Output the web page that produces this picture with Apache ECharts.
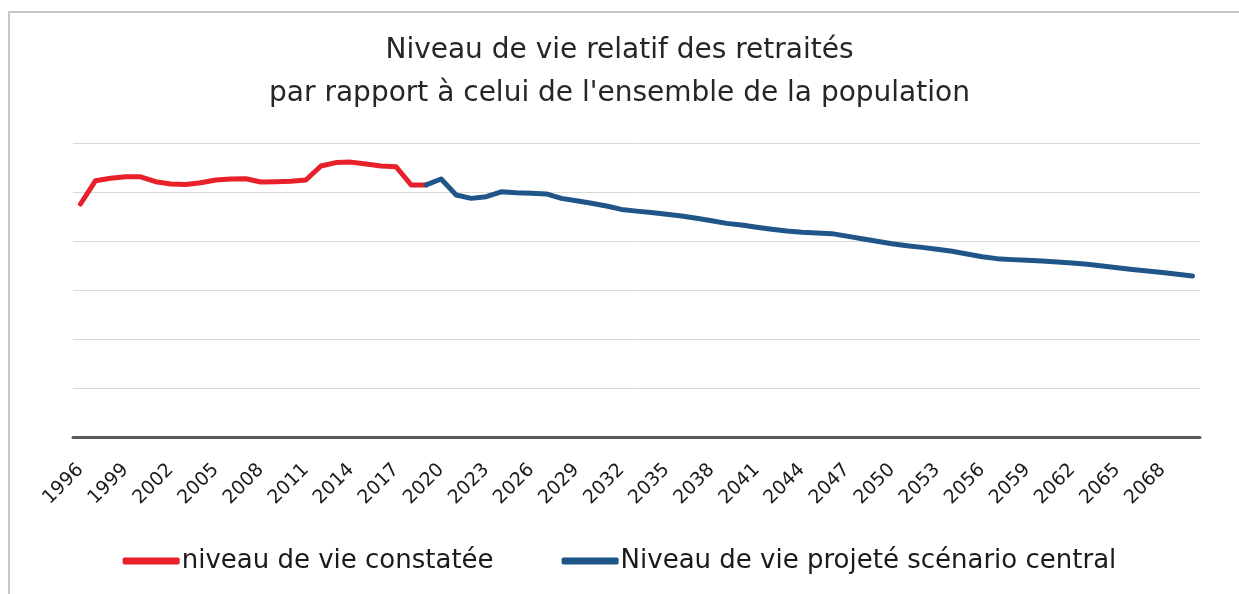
<!DOCTYPE html>
<html>
<head>
<meta charset="utf-8">
<script src="https://cdn.jsdelivr.net/npm/echarts@6/dist/echarts.min.js"></script>
<style>
html, body { margin: 0; padding: 0; background: #fff; }
#main { width: 1239px; height: 594px; }
</style>
</head>
<body>
<div id="main"></div>
<script>
// années 1996 -> 2070
var years = [];
for (var y = 1996; y <= 2070; y++) years.push(String(y));

// niveau de vie constaté (1996-2019)
var observed = [95.1, 104.6, 105.6, 106.2, 106.2, 104.2, 103.3, 103.1, 103.8, 104.9,
	105.3, 105.4, 104.1, 104.2, 104.4, 104.9, 110.6, 112.0, 112.2, 111.4,
	110.6, 110.3, 102.9, 102.9];

// projection scénario central (2019-2070)
var projected = [102.9, 105.3, 98.8, 97.4, 98.1, 100.1, 99.7, 99.5, 99.2, 97.4,
	96.4, 95.4, 94.3, 92.9, 92.2, 91.6, 90.9, 90.2, 89.3, 88.3,
	87.2, 86.5, 85.6, 84.8, 84.1, 83.6, 83.3, 83.0, 82.0, 80.9,
	79.9, 78.9, 78.1, 77.4, 76.6, 75.8, 74.7, 73.6, 72.8, 72.4,
	72.1, 71.8, 71.4, 71.0, 70.5, 69.8, 69.1, 68.4, 67.8, 67.1,
	66.4, 65.7];

var serieObs = observed.slice();
while (serieObs.length < years.length) serieObs.push(null);

var serieProj = [];
for (var i = 0; i < years.length - projected.length; i++) serieProj.push(null);
serieProj = serieProj.concat(projected);

var font = 'DejaVu Sans';
var chart = echarts.init(document.getElementById('main'));

var option = {
	backgroundColor: '#fff',
	animation: false,
	title: {
		text: 'Niveau de vie relatif des retraités\npar rapport à celui de l\'ensemble de la population',
		left: 'center',
		top: 24,
		textStyle: {
			fontFamily: font,
			fontSize: 28,
			fontWeight: 'normal',
			color: '#262626',
			lineHeight: 43
		}
	},
	graphic: [{
		type: 'rect',
		shape: { x: 9, y: 12, width: 1400, height: 800 },
		style: { fill: 'none', stroke: '#c8c8c8', lineWidth: 2 },
		silent: true
	}],
	legend: {
		bottom: 15,
		left: 'center',
		itemWidth: 57,
		itemHeight: 7,
		itemGap: 68,
		icon: 'roundRect',
		textStyle: { fontFamily: font, fontSize: 26, color: '#1a1a1a', padding: [0, 0, 0, -3] },
		data: ['niveau de vie constatée', 'Niveau de vie projeté scénario central']
	},
	grid: {
		left: 73,
		right: 39,
		top: 143,
		bottom: 157,
		containLabel: false,
		outerBoundsMode: 'none'
	},
	xAxis: {
		type: 'category',
		boundaryGap: true,
		data: years,
		axisLine: { lineStyle: { color: '#595959', width: 3 } },
		axisTick: { show: false },
		axisLabel: {
			interval: 2,
			rotate: 45,
			margin: 30,
			fontFamily: font,
			fontSize: 19,
			color: '#1a1a1a'
		}
	},
	yAxis: {
		type: 'value',
		min: 0,
		max: 120,
		interval: 20,
		axisLabel: { show: false },
		axisLine: { show: false },
		axisTick: { show: false },
		splitLine: { lineStyle: { color: '#d9d9d9', width: 1 } }
	},
	series: [{
			name: 'niveau de vie constatée',
			type: 'line',
			data: serieObs,
			symbol: 'none',
			color: '#e8202a',
			lineStyle: { width: 5, cap: 'round', join: 'round' }
		},
		{
			name: 'Niveau de vie projeté scénario central',
			type: 'line',
			data: serieProj,
			symbol: 'none',
			color: '#1f5588',
			lineStyle: { width: 5, cap: 'round', join: 'round' }
		}
	]
};

chart.setOption(option);
</script>
</body>
</html>
